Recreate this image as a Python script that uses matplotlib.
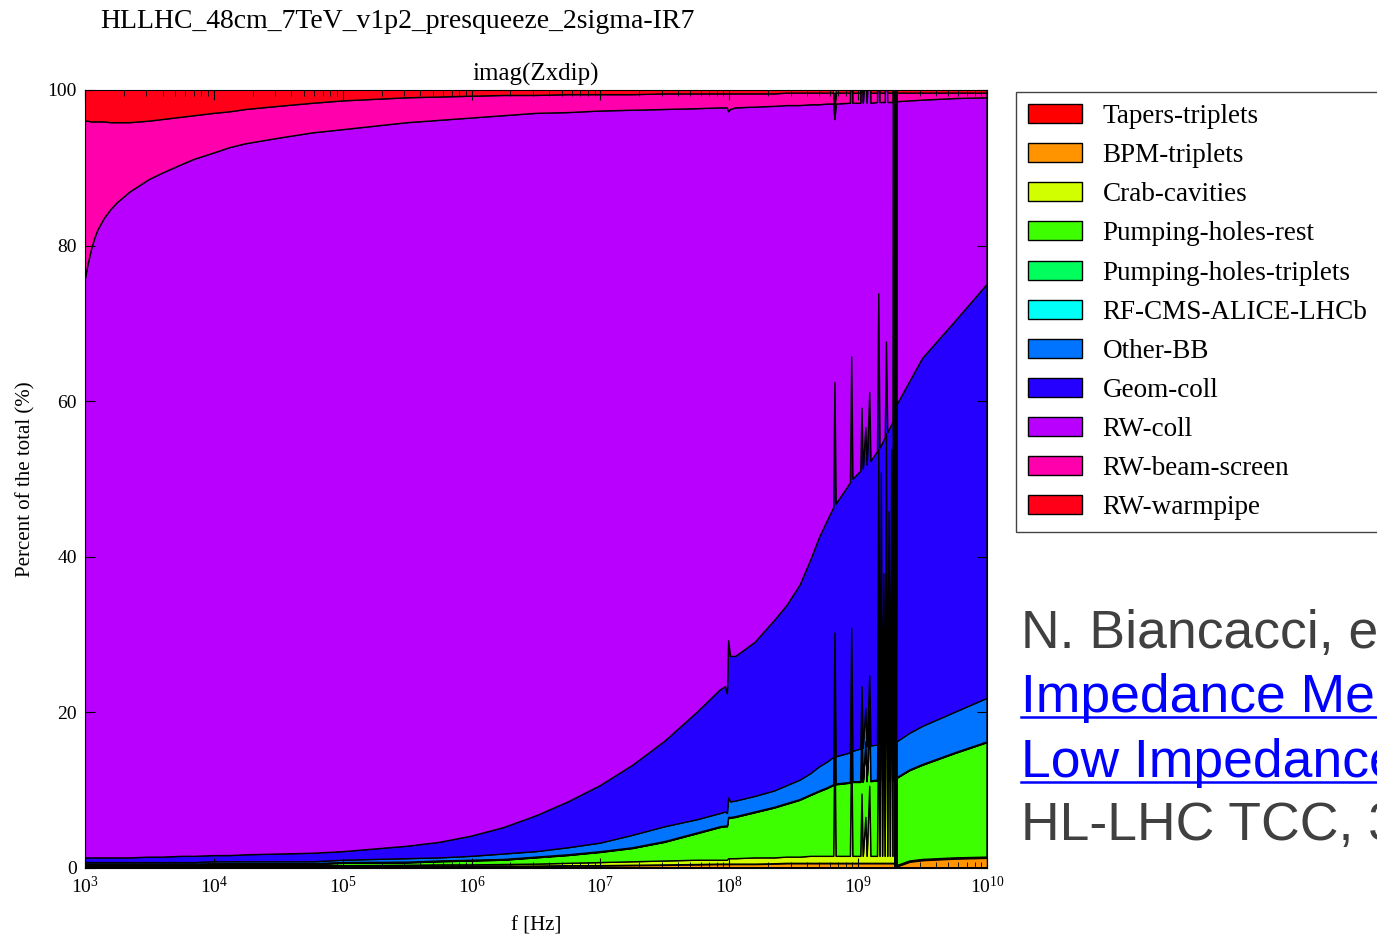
import numpy as np
import matplotlib
matplotlib.use("Agg")
import matplotlib.pyplot as plt
from matplotlib.lines import Line2D

plt.rcParams['font.family'] = ['Liberation Serif', 'DejaVu Serif']
plt.rcParams['mathtext.fontset'] = 'stix'

# frequency points, log10(f [Hz])
log_f = [3.00, 3.02, 3.05, 3.075, 3.10, 3.15, 3.20, 3.25, 3.35, 3.50,
         3.60, 3.75, 3.85, 4.00, 4.125, 4.25, 4.50, 4.77, 5.00, 5.50,
         5.75, 6.00, 6.25, 6.50, 6.75, 7.00, 7.25, 7.50, 7.75, 7.93,
         7.97, 7.985, 7.995, 8.01, 8.05, 8.20, 8.35, 8.45, 8.55, 8.63,
         8.70, 8.76, 8.81, 8.82, 8.83, 8.94, 8.95, 8.96, 9.02, 9.03,
         9.04, 9.06, 9.07, 9.09, 9.10, 9.15, 9.16, 9.17, 9.18, 9.19,
         9.20, 9.21, 9.22, 9.23, 9.24, 9.25, 9.26, 9.27, 9.28, 9.29,
         9.30, 9.40, 9.50, 9.75, 10.00]

labels = ["Tapers-triplets", "BPM-triplets", "Crab-cavities", "Pumping-holes-rest",
          "Pumping-holes-triplets", "RF-CMS-ALICE-LHCb", "Other-BB", "Geom-coll",
          "RW-coll", "RW-beam-screen", "RW-warmpipe"]

# percent of the total, per contribution
tapers_triplets = [0.1, 0.1, 0.1, 0.1, 0.1, 0.1, 0.1, 0.1, 0.1, 0.1,
                   0.1, 0.1, 0.1, 0.1, 0.1, 0.1, 0.1, 0.1, 0.1, 0.1,
                   0.1, 0.1, 0.1, 0.1, 0.1, 0.1, 0.1, 0.1, 0.1, 0.1,
                   0.1, 0.1, 0.1, 0.1, 0.1, 0.1, 0.1, 0.1, 0.1, 0.1,
                   0.1, 0.1, 0.1, 0.1, 0.1, 0.1, 0.1, 0.1, 0.1, 0.1,
                   0.1, 0.1, 0.1, 0.1, 0.1, 0.1, 0.1, 0.1, 0.1, 0.1,
                   0.1, 0.1, 0.1, 0.1, 0.1, 0.1, 0.1, 0.1, 0.1, 0.1,
                   0.1, 0.1, 0.1, 0.1, 0.1]
bpm_triplets = [0.05, 0.05, 0.05, 0.05, 0.05, 0.05, 0.05, 0.05, 0.05, 0.05,
                0.05, 0.05, 0.05, 0.05, 0.05, 0.05, 0.05, 0.05, 0.1, 0.1,
                0.1, 0.1, 0.15, 0.15, 0.2, 0.2, 0.25, 0.3, 0.35, 0.4,
                0.4, 0.4, 0.4, 0.4, 0.4, 0.4, 0.45, 0.5, 0.5, 0.5,
                0.5, 0.5, 0.5, 0.5, 0.5, 0.5, 0.5, 0.5, 0.5, 0.5,
                0.5, 0.5, 0.5, 0.5, 0.5, 0.5, 0.5, 0.5, 0.5, 0.5,
                0.5, 0.5, 0.5, 0.5, 0.5, 0.5, 0.5, 0.5, 0.5, 0.1,
                0.1, 0.7, 0.9, 1.1, 1.2]
crab_cavities = [0.1, 0.1, 0.1, 0.1, 0.1, 0.1, 0.1, 0.1, 0.1, 0.1,
                 0.1, 0.1, 0.1, 0.15, 0.15, 0.15, 0.15, 0.15, 0.1, 0.15,
                 0.2, 0.2, 0.2, 0.25, 0.3, 0.4, 0.45, 0.5, 0.55, 0.5,
                 0.5, 0.5, 0.7, 0.7, 0.7, 0.8, 0.75, 0.8, 0.8, 0.9,
                 0.9, 0.9, 0.9, 16.9, 0.9, 0.9, 16.9, 0.9, 0.9, 8.9,
                 0.9, 5.9, 0.9, 9.9, 0.9, 0.9, 20.9, 0.9, 35.9, 0.9,
                 22.9, 0.9, 40.9, 0.9, 30.9, 0.9, 38.9, 0.9, 200.9, -200.0,
                 0.1, 0.1, 0.1, 0.1, 0.1]
pumping_holes_rest = [0.15, 0.15, 0.15, 0.15, 0.15, 0.15, 0.15, 0.15, 0.15, 0.15,
                      0.15, 0.15, 0.15, 0.15, 0.15, 0.15, 0.15, 0.15, 0.3, 0.3,
                      0.4, 0.5, 0.55, 0.8, 1.0, 1.3, 1.7, 2.4, 3.4, 4.2,
                      4.3, 4.3, 5.2, 5.2, 5.3, 5.8, 6.4, 6.8, 7.3, 7.8,
                      8.3, 8.7, 9.1, 9.1, 9.2, 9.4, 9.4, 9.5, 9.5, 9.5,
                      9.5, 9.6, 9.6, 9.6, 9.6, 9.7, 9.7, 9.7, 9.7, 9.7,
                      9.7, 9.7, 9.7, 9.7, 9.7, 9.7, 9.7, 9.7, 9.7, 11.2,
                      11.2, 11.6, 12.1, 13.4, 14.7]
pumping_holes_triplets = [0.05, 0.05, 0.05, 0.05, 0.05, 0.05, 0.05, 0.05, 0.05, 0.05,
                          0.05, 0.05, 0.05, 0.05, 0.05, 0.05, 0.05, 0.05, 0.05, 0.05,
                          0.05, 0.05, 0.05, 0.05, 0.05, 0.05, 0.05, 0.05, 0.05, 0.05,
                          0.05, 0.05, 0.05, 0.05, 0.05, 0.05, 0.05, 0.05, 0.05, 0.05,
                          0.05, 0.05, 0.05, 0.05, 0.05, 0.05, 0.05, 0.05, 0.05, 0.05,
                          0.05, 0.05, 0.05, 0.05, 0.05, 0.05, 0.05, 0.05, 0.05, 0.05,
                          0.05, 0.05, 0.05, 0.05, 0.05, 0.05, 0.05, 0.05, 0.05, 0.05,
                          0.05, 0.05, 0.05, 0.05, 0.05]
rf_cms_alice_lhcb = [0.05, 0.05, 0.05, 0.05, 0.05, 0.05, 0.05, 0.05, 0.05, 0.05,
                     0.05, 0.05, 0.05, 0.05, 0.05, 0.05, 0.05, 0.05, 0.05, 0.05,
                     0.05, 0.05, 0.05, 0.05, 0.05, 0.05, 0.05, 0.05, 0.05, 0.05,
                     0.05, 0.05, 0.05, 0.05, 0.05, 0.05, 0.05, 0.05, 0.05, 0.05,
                     0.05, 0.05, 0.05, 0.05, 0.05, 0.05, 0.05, 0.05, 0.05, 0.05,
                     0.05, 0.05, 0.05, 0.05, 0.05, 0.05, 0.05, 0.05, 0.05, 0.05,
                     0.05, 0.05, 0.05, 0.05, 0.05, 0.05, 0.05, 0.05, 0.05, 0.05,
                     0.05, 0.05, 0.05, 0.05, 0.05]
other_bb = [0.2, 0.2, 0.2, 0.2, 0.2, 0.2, 0.2, 0.2, 0.2, 0.2,
            0.2, 0.2, 0.2, 0.25, 0.25, 0.25, 0.25, 0.25, 0.3, 0.45,
            0.4, 0.5, 0.7, 0.7, 0.9, 1.1, 1.6, 1.9, 1.7, 1.7,
            1.8, 1.6, 2.5, 2.0, 2.0, 2.0, 2.1, 2.3, 2.5, 2.7,
            3.1, 3.3, 3.5, 3.5, 3.5, 3.8, 3.8, 3.9, 4.2, 4.2,
            4.3, 4.3, 4.4, 4.5, 4.5, 4.5, 22.5, 4.5, 4.5, 4.5,
            4.5, 4.5, 4.5, 4.5, 4.5, 4.5, 4.5, 4.5, 4.5, 4.6,
            4.6, 4.7, 4.9, 5.2, 5.6]
geom_coll = [0.6, 0.6, 0.6, 0.6, 0.6, 0.6, 0.6, 0.6, 0.6, 0.7,
             0.7, 0.8, 0.8, 0.8, 0.8, 0.9, 1.0, 1.1, 1.1, 1.6,
             2.0, 2.6, 3.4, 4.6, 5.9, 7.4, 9.0, 11.0, 13.8, 15.9,
             16.1, 15.4, 20.2, 18.7, 18.6, 19.8, 21.9, 23.2, 25.1, 27.4,
             29.5, 31.0, 32.1, 32.2, 32.5, 34.7, 34.9, 35.0, 35.7, 35.8,
             35.9, 36.1, 36.2, 36.4, 36.6, 37.7, 20.0, 38.2, 3.5, 38.8,
             17.2, 39.5, 11.8, 40.2, 10.5, 40.8, 3.2, 41.5, 41.7, 43.3,
             43.3, 45.2, 47.3, 50.2, 53.2]
rw_coll = [74.2, 76.0, 78.2, 79.6, 80.7, 82.2, 83.3, 84.2, 85.6, 87.1,
           87.9, 88.9, 89.6, 90.3, 91.0, 91.4, 92.0, 92.6, 92.8, 93.0,
           92.8, 92.3, 91.5, 90.3, 88.6, 86.7, 84.2, 81.2, 77.6, 74.8,
           74.4, 75.3, 68.0, 70.3, 70.5, 68.8, 66.1, 64.2, 61.6, 58.6,
           55.6, 53.6, 51.9, 33.8, 51.4, 48.8, 48.6, 48.3, 47.3, 47.2,
           47.0, 46.7, 46.5, 46.2, 46.0, 44.9, 44.6, 44.4, 44.1, 43.8,
           43.4, 43.1, 42.8, 42.4, 42.1, 41.8, 41.4, 41.1, 40.9, 39.0,
           39.0, 36.1, 33.2, 28.7, 24.0]
rw_beam_screen = [20.5, 18.7, 16.4, 15.0, 13.9, 12.4, 11.2, 10.3, 8.9, 7.5,
                  6.9, 6.1, 5.6, 5.1, 4.6, 4.4, 4.1, 3.8, 3.7, 3.2,
                  3.0, 2.8, 2.6, 2.3, 2.3, 2.1, 2.0, 2.0, 1.9, 1.8,
                  1.8, 1.8, 2.3, 2.0, 1.8, 1.7, 1.6, 1.6, 1.6, 1.5,
                  1.5, 1.4, 1.4, 1.4, 1.4, 1.3, 1.3, 1.3, 1.3, 1.3,
                  1.3, 1.3, 1.3, 1.3, 1.3, 1.2, 1.2, 1.2, 1.2, 1.2,
                  1.2, 1.2, 1.2, 1.2, 1.2, 1.2, 1.2, 1.2, 1.2, 1.1,
                  1.1, 1.0, 0.9, 0.7, 0.6]
rw_warmpipe = [4.0, 4.0, 4.1, 4.1, 4.1, 4.1, 4.2, 4.2, 4.2, 4.0,
               3.8, 3.5, 3.3, 3.0, 2.8, 2.5, 2.1, 1.7, 1.4, 1.0,
               0.9, 0.8, 0.7, 0.7, 0.6, 0.6, 0.6, 0.5, 0.5, 0.5,
               0.5, 0.5, 0.5, 0.5, 0.5, 0.5, 0.5, 0.4, 0.4, 0.4,
               0.4, 0.4, 0.4, 0.4, 0.4, 0.4, 0.4, 0.4, 0.4, 0.4,
               0.4, 0.4, 0.4, 0.4, 0.4, 0.4, 0.4, 0.4, 0.4, 0.4,
               0.4, 0.4, 0.4, 0.4, 0.4, 0.4, 0.4, 0.4, 0.4, 0.4,
               0.4, 0.4, 0.4, 0.4, 0.4]

freq = np.power(10.0, log_f)
layers = [tapers_triplets, bpm_triplets, crab_cavities, pumping_holes_rest,
          pumping_holes_triplets, rf_cms_alice_lhcb, other_bb, geom_coll,
          rw_coll, rw_beam_screen, rw_warmpipe]
colors = plt.cm.hsv(np.linspace(0, 1, len(labels)))

W, H = 1377, 936
fig = plt.figure(figsize=(W / 100, H / 100), dpi=100)
ax = fig.add_axes([85 / W, 1 - 868 / H, 902 / W, 778 / H])

ax.stackplot(freq, *layers, labels=labels, colors=colors,
             edgecolor='black', linewidth=1.0)

ax.set_xscale('log')
ax.set_xlim(1e3, 1e10)
ax.set_ylim(0, 100)
ax.set_yticks([0, 20, 40, 60, 80, 100])
ax.tick_params(which='both', direction='in', top=True, right=True, labelsize=14)
ax.tick_params(which='major', length=7, pad=6)
ax.tick_params(which='minor', length=4)

ax.set_title("imag(Zxdip)", fontsize=18, pad=7)
ax.set_xlabel("f [Hz]", fontsize=15)
ax.set_ylabel("Percent of the total (%)", fontsize=15)
ax.xaxis.set_label_coords(0.5, -0.062)
ax.yaxis.set_label_coords(-0.055, 0.5)

fig.text(100 / W, 1 - 22 / H, "HLLHC_48cm_7TeV_v1p2_presqueeze_2sigma-IR7",
         fontsize=20, ha='left', va='center')

ax.legend(loc='upper left', bbox_to_anchor=(1016 / W, 1 - 92 / H),
          bbox_transform=fig.transFigure, borderaxespad=0, fontsize=19.5,
          fancybox=False, edgecolor='#444444', framealpha=1,
          handlelength=2.0, handleheight=0.7, handletextpad=0.75,
          labelspacing=0.52, borderpad=0.45)

# reference note on the right (cut by the figure edge, as in the slide)
note_kw = dict(family=['Liberation Sans', 'DejaVu Sans'], fontsize=38.5, ha='left', va='baseline')
fig.text(1021 / W, 1 - 648 / H, "N. Biancacci, et al.,", color='#404040', **note_kw)
fig.text(1021 / W, 1 - 712 / H, "Impedance Measurements", color='#0000ff', **note_kw)
fig.text(1021 / W, 1 - 777 / H, "Low Impedance Collimators", color='#0000ff', **note_kw)
fig.text(1021 / W, 1 - 840 / H, "HL-LHC TCC, 3", color='#404040', **note_kw)
for yy in (717, 782):
    fig.add_artist(Line2D([1021 / W, 1.0], [1 - yy / H, 1 - yy / H],
                          transform=fig.transFigure, color='#0000ff', lw=1.8))

fig.savefig("out.png", dpi=100)
